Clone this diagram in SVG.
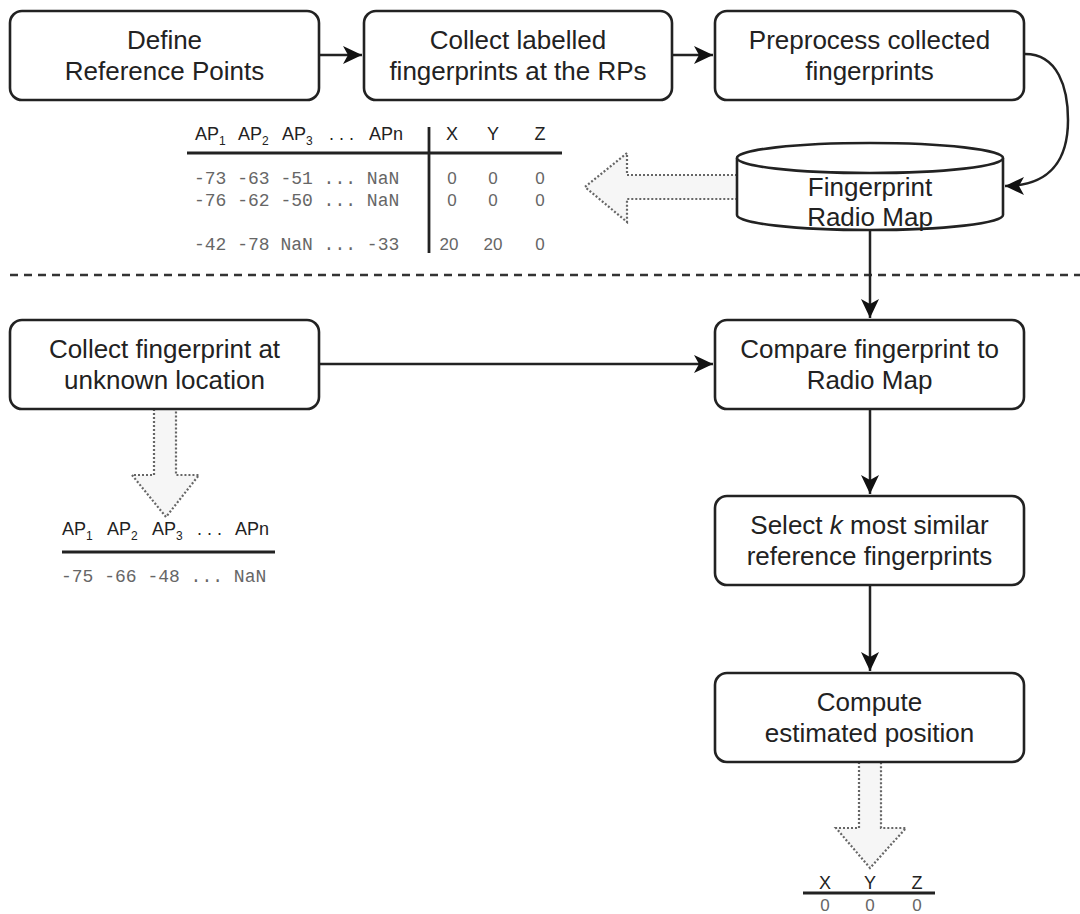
<svg xmlns="http://www.w3.org/2000/svg" width="1080" height="914" viewBox="0 0 1080 914">
<style>
.box{fill:#fff;stroke:#222;stroke-width:2.6}
.lbl{font-family:"Liberation Sans",Arial,sans-serif;font-size:26px;fill:#222;text-anchor:middle}
.hd{font-family:"Liberation Sans",Arial,sans-serif;font-size:18px;fill:#222}
.sub{font-size:12px}
.num{font-family:"Liberation Mono","Courier New",monospace;font-size:18px;fill:#666}
.nums{font-family:"Liberation Sans",Arial,sans-serif;font-size:17px;fill:#666;text-anchor:middle}
.conn{fill:none;stroke:#222;stroke-width:2.5}
.block{fill:#f6f6f6;stroke:#666;stroke-width:2.2;stroke-dasharray:2 2}
.rule{stroke:#222;stroke-width:2.8}
</style>
<defs>
<marker id="ah" markerUnits="userSpaceOnUse" markerWidth="22" markerHeight="20" refX="19" refY="10" orient="auto">
<path d="M0,1 L19,10 L0,19 L5,10 z" fill="#111"/>
</marker>
</defs>
<rect width="1080" height="914" fill="#fff"/>

<g id="separator">
<line x1="10" y1="275" x2="1080" y2="275" stroke="#333" stroke-width="2.6" stroke-dasharray="8 6"/>
</g>

<g id="connectors">
<line class="conn" x1="319" y1="55" x2="362" y2="55" marker-end="url(#ah)"/>
<line class="conn" x1="672" y1="55" x2="713" y2="55" marker-end="url(#ah)"/>
<path class="conn" d="M1025,54 C1058,54 1068,88 1068,120 C1068,160 1050,186 1005,186" marker-end="url(#ah)"/>
<line class="conn" x1="870" y1="230" x2="870" y2="318" marker-end="url(#ah)"/>
<line class="conn" x1="319" y1="364" x2="713" y2="364" marker-end="url(#ah)"/>
<line class="conn" x1="870" y1="409" x2="870" y2="494" marker-end="url(#ah)"/>
<line class="conn" x1="870" y1="585" x2="870" y2="671" marker-end="url(#ah)"/>
</g>

<g id="block-arrows">
<path class="block" d="M737,175 L627,175 L627,153 L585,187 L627,222 L627,199 L737,199"/>
<path class="block" d="M154,409 L154,475 L132,475 L166,517 L199,475 L176,475 L176,409"/>
<path class="block" d="M859,762 L859,828 L836,828 L870,868 L906,828 L881,828 L881,762"/>
</g>

<g id="define-rp">
<rect class="box" x="10" y="11" width="309" height="89" rx="12"/>
<text class="lbl" x="164.5" y="49">Define</text>
<text class="lbl" x="164.5" y="80">Reference Points</text>
</g>

<g id="collect-labelled">
<rect class="box" x="364" y="11" width="308" height="89" rx="12"/>
<text class="lbl" x="518" y="49">Collect labelled</text>
<text class="lbl" x="518" y="80">fingerprints at the RPs</text>
</g>

<g id="preprocess">
<rect class="box" x="715" y="11" width="309" height="89" rx="12"/>
<text class="lbl" x="869.5" y="49">Preprocess collected</text>
<text class="lbl" x="869.5" y="80">fingerprints</text>
</g>

<g id="radio-map">
<path class="box" d="M737,158 L737,215 A133,15 0 0 0 1003,215 L1003,158"/>
<ellipse class="box" cx="870" cy="158" rx="133" ry="15"/>
<text class="lbl" x="870" y="196">Fingerprint</text>
<text class="lbl" x="870" y="226">Radio Map</text>
</g>

<g id="radio-map-table">
<text class="hd" x="195" y="140">AP<tspan class="sub" dy="5">1</tspan></text>
<text class="hd" x="238" y="140">AP<tspan class="sub" dy="5">2</tspan></text>
<text class="hd" x="282" y="140">AP<tspan class="sub" dy="5">3</tspan></text>
<text class="hd" x="329" y="140" letter-spacing="5">...</text>
<text class="hd" x="369" y="140">APn</text>
<text class="hd" x="452" y="140" text-anchor="middle">X</text>
<text class="hd" x="493" y="140" text-anchor="middle">Y</text>
<text class="hd" x="540" y="140" text-anchor="middle">Z</text>
<line class="rule" x1="187" y1="153" x2="562" y2="153"/>
<line class="rule" x1="429" y1="127" x2="429" y2="253"/>
<text class="num" x="194" y="184" xml:space="preserve">-73 -63 -51 ... NaN</text>
<text class="num" x="194" y="206" xml:space="preserve">-76 -62 -50 ... NaN</text>
<text class="num" x="194" y="250" xml:space="preserve">-42 -78 NaN ... -33</text>
<text class="nums" x="452" y="184">0</text><text class="nums" x="493" y="184">0</text><text class="nums" x="540" y="184">0</text>
<text class="nums" x="452" y="206">0</text><text class="nums" x="493" y="206">0</text><text class="nums" x="540" y="206">0</text>
<text class="nums" x="449" y="250">20</text><text class="nums" x="493" y="250">20</text><text class="nums" x="540" y="250">0</text>
</g>

<g id="collect-unknown">
<rect class="box" x="10" y="320" width="309" height="89" rx="12"/>
<text class="lbl" x="164.5" y="358">Collect fingerprint at</text>
<text class="lbl" x="164.5" y="389">unknown location</text>
</g>

<g id="query-table">
<text class="hd" x="62" y="535">AP<tspan class="sub" dy="5">1</tspan></text>
<text class="hd" x="107" y="535">AP<tspan class="sub" dy="5">2</tspan></text>
<text class="hd" x="152" y="535">AP<tspan class="sub" dy="5">3</tspan></text>
<text class="hd" x="197" y="535" letter-spacing="5">...</text>
<text class="hd" x="235" y="535">APn</text>
<line class="rule" x1="62" y1="552" x2="275" y2="552"/>
<text class="num" x="61" y="582" xml:space="preserve">-75 -66 -48 ... NaN</text>
</g>

<g id="compare">
<rect class="box" x="715" y="320" width="309" height="89" rx="12"/>
<text class="lbl" x="869.5" y="358">Compare fingerprint to</text>
<text class="lbl" x="869.5" y="389">Radio Map</text>
</g>

<g id="select-k">
<rect class="box" x="715" y="496" width="309" height="89" rx="12"/>
<text class="lbl" x="869.5" y="534">Select <tspan font-style="italic">k</tspan> most similar</text>
<text class="lbl" x="869.5" y="565">reference fingerprints</text>
</g>

<g id="compute">
<rect class="box" x="715" y="673" width="309" height="89" rx="12"/>
<text class="lbl" x="869.5" y="711">Compute</text>
<text class="lbl" x="869.5" y="742">estimated position</text>
</g>

<g id="result-table">
<text class="hd" x="825" y="889" text-anchor="middle">X</text>
<text class="hd" x="870" y="889" text-anchor="middle">Y</text>
<text class="hd" x="917" y="889" text-anchor="middle">Z</text>
<line class="rule" x1="803" y1="893" x2="935" y2="893"/>
<text class="nums" x="825" y="911" font-size="16">0</text>
<text class="nums" x="870" y="911" font-size="16">0</text>
<text class="nums" x="917" y="911" font-size="16">0</text>
</g>
</svg>
